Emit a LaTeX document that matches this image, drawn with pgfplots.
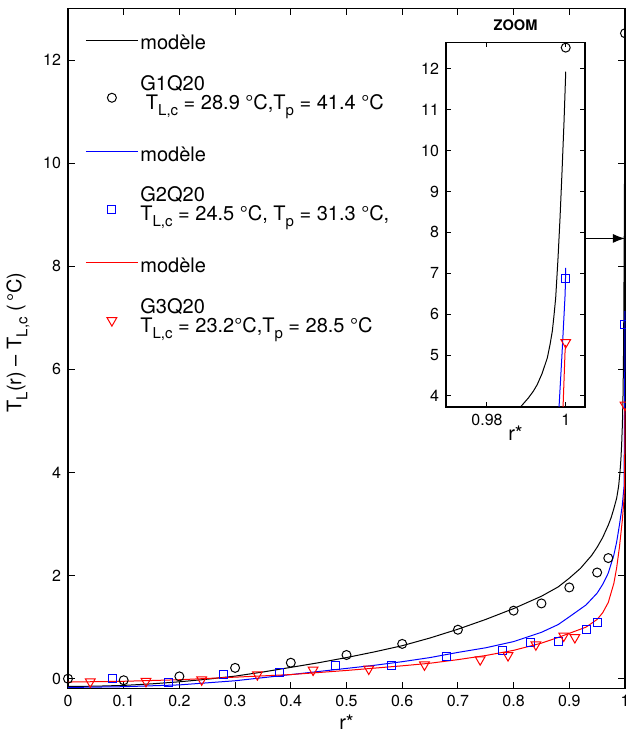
\documentclass[border=0pt]{standalone}
\usepackage{fontspec}
\setmainfont{TeX Gyre Heros}
\usepackage{pgfplots}
\usepackage{pgfplotstable}
\pgfplotsset{compat=1.18}
\usetikzlibrary{arrows.meta}
\newcommand\sub[1]{\raisebox{-3pt}{\fontsize{7.5}{8}\selectfont #1}}
% legend texts: fixed-size strut, contents smashed
\newcommand\entL[1]{\rule[-13.95pt]{0pt}{27.9pt}\smash{\raisebox{1.3pt}{#1}}}
\newcommand\entM[2]{\rule[-13.95pt]{0pt}{27.9pt}\smash{\rlap{\raisebox{8.85pt}{#1}}\raisebox{-0.65pt}{#2}}}
\pgfplotsset{
  markleg/.style={legend image code/.code={\draw[##1,#1] plot coordinates {(13pt,-1pt)};}},
  lineleg/.style={legend image code/.code={\draw[##1,#1] (0pt,0pt) -- (26pt,0pt);}},
}

\pgfplotstableread{
r T
0 -0.15
0.05 -0.145
0.1 -0.13
0.15 -0.10
0.2 -0.06
0.25 -0.01
0.3 0.05
0.35 0.13
0.4 0.22
0.45 0.31
0.5 0.41
0.55 0.52
0.6 0.64
0.65 0.79
0.7 0.96
0.75 1.15
0.8 1.36
0.85 1.60
0.88 1.78
0.9 1.95
0.92 2.14
0.94 2.39
0.95 2.55
0.96 2.74
0.97 2.98
0.975 3.12
0.98 3.30
0.985 3.50
0.98851 3.73
0.9905 3.95
0.9918 4.12
0.99277 4.28
0.9940 4.55
0.99532 4.93
0.9960 5.25
0.99660 5.59
0.9970 5.95
0.99745 6.40
0.99804 7.37
0.99855 8.35
0.99906 9.49
0.99957 10.72
1.0 11.93
}\modelA

\pgfplotstableread{
r T
0 -0.17
0.1 -0.155
0.2 -0.12
0.3 -0.04
0.35 0.02
0.4 0.08
0.45 0.14
0.5 0.20
0.55 0.26
0.6 0.33
0.65 0.41
0.7 0.51
0.75 0.60
0.8 0.72
0.85 0.90
0.88 1.05
0.9 1.20
0.93 1.43
0.95 1.66
0.96 1.83
0.97 2.05
0.98 2.40
0.985 2.65
0.99 2.98
0.995 3.35
0.9983 3.73
0.99904 5.0
0.99985 6.5
1.0 7.13
}\modelB

\pgfplotstableread{
r T
0 -0.065
0.1 -0.05
0.2 -0.02
0.3 0.03
0.4 0.08
0.5 0.16
0.6 0.25
0.65 0.30
0.7 0.37
0.75 0.45
0.8 0.55
0.85 0.69
0.88 0.80
0.9 0.88
0.93 1.00
0.95 1.15
0.96 1.28
0.97 1.48
0.98 1.85
0.985 2.15
0.99 2.55
0.995 3.05
0.998 3.45
0.99932 3.73
0.99983 5.1
1.0 5.25
}\modelC

\pgfplotstableread{
r T
0 0
0.1 -0.03
0.2 0.045
0.3 0.21
0.4 0.31
0.5 0.46
0.6 0.675
0.7 0.95
0.8 1.32
0.85 1.46
0.9 1.77
0.95 2.06
0.97 2.34
1.0 12.52
}\expA

\pgfplotstableread{
r T
0.08 0.0
0.18 -0.08
0.28 0.08
0.38 0.12
0.48 0.26
0.58 0.26
0.68 0.44
0.78 0.55
0.83 0.70
0.88 0.73
0.93 0.95
0.95 1.09
1.0 6.88
}\expB

\pgfplotstableread{
r T
0.04 -0.06
0.14 -0.05
0.24 -0.02
0.34 0.08
0.44 0.17
0.54 0.19
0.64 0.27
0.74 0.37
0.79 0.45
0.84 0.66
0.89 0.83
0.91 0.80
1.0 5.31
}\expC

\begin{document}
\begin{tikzpicture}
\begin{axis}[
  name=main,
  scale only axis, width=278.5pt, height=340pt,
  xmin=0, xmax=1, ymin=-0.19, ymax=13,
  xtick={0,0.1,0.2,0.3,0.4,0.5,0.6,0.7,0.8,0.9,1},
  xticklabels={0,0.1,0.2,0.3,0.4,0.5,0.6,0.7,0.8,0.9,1},
  ytick={0,2,4,6,8,10,12},
  yticklabels={0,2,4,6,8,10,12},
  tick align=inside, major tick length=3.5pt,
  xtick pos=both, ytick pos=both,
  xticklabel pos=lower, yticklabel pos=left,
  axis line style={line width=0.8pt},
  every tick/.style={black, line width=0.5pt},
  tick label style={font=\fontsize{8}{9}\selectfont},
  /pgf/number format/assume math mode=true,
  clip=false,
  xlabel={r*},
  ylabel={T\sub{L}(r) – T\sub{L,c} (\,°C)},
  every axis x label/.style={at={([yshift=-17pt]axis description cs:0.5,0)}, anchor=center, font=\fontsize{10}{12}\selectfont},
  every axis y label/.style={at={([xshift=-25pt,yshift=3pt]axis description cs:0,0.5)}, rotate=90, anchor=center, font=\fontsize{10}{12}\selectfont},
  legend style={at={(0,1)}, anchor=north west, xshift=8.5pt, yshift=-5.85pt, draw=none, fill=none, inner sep=0pt, row sep=8.4pt, column sep=-1pt, font=\fontsize{10}{10}\selectfont, cells={anchor=west, inner sep=0pt}},
]
\coordinate (insetSW) at (rel axis cs:0.6786,0.41397);
\addplot[black, line width=0.5pt, lineleg=black] table[x=r, y=T] {\modelA};
\addlegendentry{\entL{modèle}}
\addplot[black, only marks, mark=o, mark size=2.25pt, mark options={line width=0.5pt}, markleg=black] table[x=r, y=T] {\expA};
\addlegendentry{\entM{G1Q20}{ T\sub{L,c} = 28.9 °C,T\sub{p} = 41.4 °C}}
\addplot[blue, line width=0.5pt, lineleg=blue] table[x=r, y=T] {\modelB};
\addlegendentry{\entL{modèle}}
\addplot[blue, only marks, mark=square, mark size=2pt, mark options={line width=0.5pt}, markleg=blue] table[x=r, y=T] {\expB};
\addlegendentry{\entM{G2Q20}{T\sub{L,c} = 24.5 °C, T\sub{p} = 31.3 °C,}}
\addplot[red, line width=0.5pt, lineleg=red] table[x=r, y=T] {\modelC};
\addlegendentry{\entL{modèle}}
\addplot[red, only marks, mark=triangle, mark size=2.8pt, mark options={line width=0.5pt, rotate=180}, markleg=red] table[x=r, y=T] {\expC};
\addlegendentry{\entM{G3Q20}{T\sub{L,c} = 23.2°C,T\sub{p} = 28.5 °C}}
\draw[-{Latex[length=6pt,width=4.5pt]}, line width=0.6pt] (axis cs:0.928,8.54) -- (axis cs:1,8.54);
\end{axis}

\begin{axis}[
  name=inset,
  at={(insetSW)}, anchor=south west,
  scale only axis, width=69.5pt, height=182.35pt,
  xmin=0.9696, xmax=1.0049, ymin=3.73, ymax=12.65,
  xtick={0.98,1}, xticklabels={0.98,1},
  ytick={4,5,6,7,8,9,10,11,12}, yticklabels={4,5,6,7,8,9,10,11,12},
  tick align=inside, major tick length=2.5pt,
  xtick pos=both, ytick pos=both,
  xticklabel pos=lower, yticklabel pos=left,
  axis line style={line width=0.8pt},
  every tick/.style={black, line width=0.5pt},
  tick label style={font=\fontsize{8}{9}\selectfont},
  /pgf/number format/assume math mode=true,
  axis background/.style={fill=white},
  title={ZOOM},
  every axis title/.style={at={(0.5,1)}, anchor=center, yshift=8.5pt, font=\bfseries\fontsize{7.3}{8}\selectfont},
  xlabel={r*},
  every axis x label/.style={at={([yshift=-13pt]axis description cs:0.5,0)}, anchor=center, font=\fontsize{10}{12}\selectfont},
]
\addplot[black, line width=0.5pt] table[x=r, y=T] {\modelA};
\addplot[blue, line width=0.5pt] table[x=r, y=T] {\modelB};
\addplot[red, line width=0.5pt] table[x=r, y=T] {\modelC};
\addplot[black, only marks, mark=o, mark size=2.25pt, mark options={line width=0.5pt}, restrict x to domain=0.99:1.01] table[x=r, y=T] {\expA};
\addplot[blue, only marks, mark=square, mark size=2pt, mark options={line width=0.5pt}, restrict x to domain=0.99:1.01] table[x=r, y=T] {\expB};
\addplot[red, only marks, mark=triangle, mark size=2.8pt, mark options={line width=0.5pt, rotate=180}, restrict x to domain=0.99:1.01] table[x=r, y=T] {\expC};
\end{axis}
\pgfresetboundingbox
\path[use as bounding box] ([shift={(-34pt,-20.75pt)}]main.south west) rectangle ([shift={(0.5pt,4.25pt)}]main.north east);
\end{tikzpicture}
\end{document}
